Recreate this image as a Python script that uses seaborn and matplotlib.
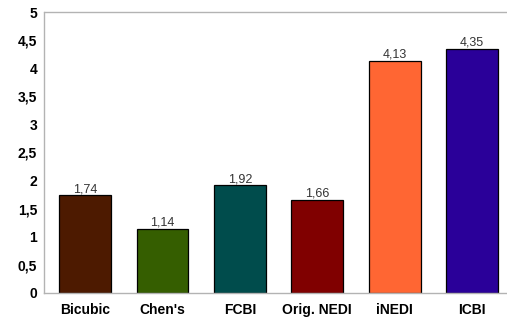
import matplotlib
matplotlib.use("Agg")
import matplotlib.pyplot as plt
import seaborn as sns
import pandas as pd
from matplotlib.ticker import FuncFormatter

# ---- Data
methods = ["Bicubic", "Chen's", "FCBI", "Orig. NEDI", "iNEDI", "ICBI"]
scores = [1.74, 1.14, 1.92, 1.66, 4.13, 4.35]
colors = ["#4D1A00", "#355E00", "#004C4C", "#800000", "#FF6633", "#2A0099"]

df = pd.DataFrame({"Method": methods, "Score": scores})

sns.set_style("white")
plt.rcParams["font.family"] = ["Liberation Sans", "DejaVu Sans"]

fig = plt.figure(figsize=(5.07, 3.22), dpi=100)
ax = fig.add_axes([44 / 507, 29 / 322, 463 / 507, 281 / 322])

sns.barplot(data=df, x="Method", y="Score", hue="Method", palette=colors,
            saturation=1, width=0.67, edgecolor="black", linewidth=0.9,
            legend=False, ax=ax)

for c in ax.containers:
    ax.bar_label(c, labels=[f"{v:.2f}".replace(".", ",") for v in c.datavalues],
                 padding=0, fontsize=9, color="#333333")

ax.set_ylim(0, 5)
ax.set_xlim(-0.53, 5.45)
ax.set_yticks([i * 0.5 for i in range(11)])
ax.yaxis.set_major_formatter(FuncFormatter(lambda v, p: f"{v:g}".replace(".", ",")))
ax.axhline(5, color="#b3b3b3", linewidth=1, clip_on=False)

ax.set_xlabel("")
ax.set_ylabel("")
for s in ["top", "right"]:
    ax.spines[s].set_visible(False)
for s in ["left", "bottom"]:
    ax.spines[s].set_color("#b3b3b3")
    ax.spines[s].set_linewidth(1)
ax.tick_params(axis="both", length=3, color="#b3b3b3", width=1, pad=2)
ax.tick_params(axis="x", pad=4)
for lab in ax.get_xticklabels() + ax.get_yticklabels():
    lab.set_fontweight("bold")
    lab.set_fontsize(10)
    lab.set_color("black")

fig.savefig("out.png", dpi=100)
